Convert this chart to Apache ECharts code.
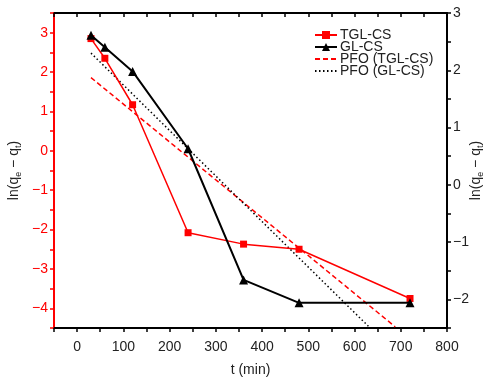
<!DOCTYPE html>
<html>
<head>
<meta charset="utf-8">
<script src="https://cdn.jsdelivr.net/npm/echarts@6/dist/echarts.min.js"></script>
<style>html,body{margin:0;padding:0;background:#fff}#c{width:489px;height:381px}</style>
</head>
<body>
<div id="c"></div>
<script>
const times = [30, 60, 120, 240, 360, 480, 720];
const tglValues = [2.85, 2.35, 1.17, -2.08, -2.37, -2.50, -3.75];
const glValues = [2.61, 2.40, 1.98, 0.63, -1.66, -2.06, -2.06];
const pfoTglTimes = [30, 688];
const pfoTglValues = [1.86, -4.47];
const pfoGlTimes = [30, 630];
const pfoGlValues = [2.30, -2.47];
const seriesNames = ['TGL-CS', 'GL-CS', 'PFO (TGL-CS)', 'PFO (GL-CS)'];

const pair = (xs, ys) => xs.map((x, i) => [x, ys[i]]);
const FONT = 'Liberation Sans';
const minus = v => String(v).replace('-', '\u2212');

const chart = echarts.init(document.getElementById('c'));
const yName = '{n|ln(q}{s|e}{n| \u2212 q}{s|t}{n|)}';
const richName = {
  n: {fontSize: 14, fontFamily: FONT, color: '#222', lineHeight: 18, verticalAlign: 'middle'},
  s: {fontSize: 9, fontFamily: FONT, color: '#222', lineHeight: 18, verticalAlign: 'bottom', padding: [6, 0, 0, 0]}
};
chart.setOption({
  animation: false,
  grid: {left: 54, right: 42, top: 13, bottom: 53, containLabel: false, outerBoundsMode: 'none'},
  legend: {
    orient: 'vertical', left: 309, top: 23, itemWidth: 22, itemHeight: 10, itemGap: -2,
    textStyle: {fontFamily: FONT, fontSize: 14, color: '#222', padding: [0, 0, 0, -2]},
    data: [
      {name: seriesNames[0]},
      {name: seriesNames[1]},
      {name: seriesNames[2], itemStyle: {opacity: 0}},
      {name: seriesNames[3], itemStyle: {opacity: 0}}
    ]
  },
  xAxis: [{
    type: 'value', min: -50, max: 800, interval: 50, position: 'bottom',
    name: 't (min)', nameLocation: 'middle', nameGap: 35,
    nameTextStyle: {fontFamily: FONT, fontSize: 14, color: '#222'},
    axisLine: {onZero: false, lineStyle: {color: '#000', width: 2}},
    axisTick: {inside: false, length: 4, lineStyle: {color: '#000', width: 1.5}},
    axisLabel: {fontFamily: FONT, fontSize: 14, color: '#222', margin: 12,
      formatter: v => (v % 100 === 0 ? minus(v) : '')},
    splitLine: {show: false}
  }, {
    type: 'value', min: -50, max: 800, interval: 50, position: 'top',
    axisLine: {onZero: false, lineStyle: {color: '#000', width: 2}},
    axisTick: {inside: true, length: 4, lineStyle: {color: '#000', width: 1.5}},
    axisLabel: {show: false}, splitLine: {show: false}
  }],
  yAxis: [{
    type: 'value', min: -4.5, max: 3.5, interval: 0.5, position: 'left',
    name: yName, nameLocation: 'middle', nameGap: 31, nameRotate: 90, nameMoveOverlap: false,
    nameTextStyle: {rich: richName},
    axisLine: {show: true, onZero: false, lineStyle: {color: '#ff0000', width: 2}},
    axisTick: {inside: false, length: 4, lineStyle: {color: '#ff0000', width: 1.5}},
    axisLabel: {fontFamily: FONT, fontSize: 14, color: '#ff0000', margin: 6,
      formatter: v => (Number.isInteger(v) ? minus(v) : '')},
    splitLine: {show: false}
  }, {
    type: 'value', min: -2.5, max: 3, interval: 0.5, position: 'right',
    name: yName, nameLocation: 'middle', nameGap: 20, nameRotate: 90, nameMoveOverlap: false,
    nameTextStyle: {rich: richName},
    axisLine: {show: true, onZero: false, lineStyle: {color: '#000', width: 2}},
    axisTick: {inside: false, length: 4, lineStyle: {color: '#000', width: 1.5}},
    axisLabel: {fontFamily: FONT, fontSize: 14, color: '#222', margin: 6,
      formatter: v => (Number.isInteger(v) ? minus(v) : '')},
    splitLine: {show: false}
  }],
  series: [{
    name: seriesNames[0], type: 'line', xAxisIndex: 0, yAxisIndex: 0,
    data: pair(times, tglValues), symbol: 'rect', symbolSize: 7,
    itemStyle: {color: '#ff0000'}, lineStyle: {color: '#ff0000', width: 1.5}, z: 3
  }, {
    name: seriesNames[1], type: 'line', xAxisIndex: 0, yAxisIndex: 1,
    data: pair(times, glValues), symbol: 'triangle', symbolSize: 9,
    itemStyle: {color: '#000'}, lineStyle: {color: '#000', width: 2}, z: 4
  }, {
    name: seriesNames[2], type: 'line', xAxisIndex: 0, yAxisIndex: 0,
    data: pair(pfoTglTimes, pfoTglValues), symbol: 'none', showSymbol: false,
    itemStyle: {color: '#ff0000'}, lineStyle: {color: '#ff0000', width: 1.5, type: [5, 3]}, z: 2
  }, {
    name: seriesNames[3], type: 'line', xAxisIndex: 0, yAxisIndex: 1,
    data: pair(pfoGlTimes, pfoGlValues), symbol: 'none', showSymbol: false,
    itemStyle: {color: '#000'}, lineStyle: {color: '#000', width: 1.5, type: [1.5, 2.5]}, z: 2
  }]
});
</script>
</body>
</html>
